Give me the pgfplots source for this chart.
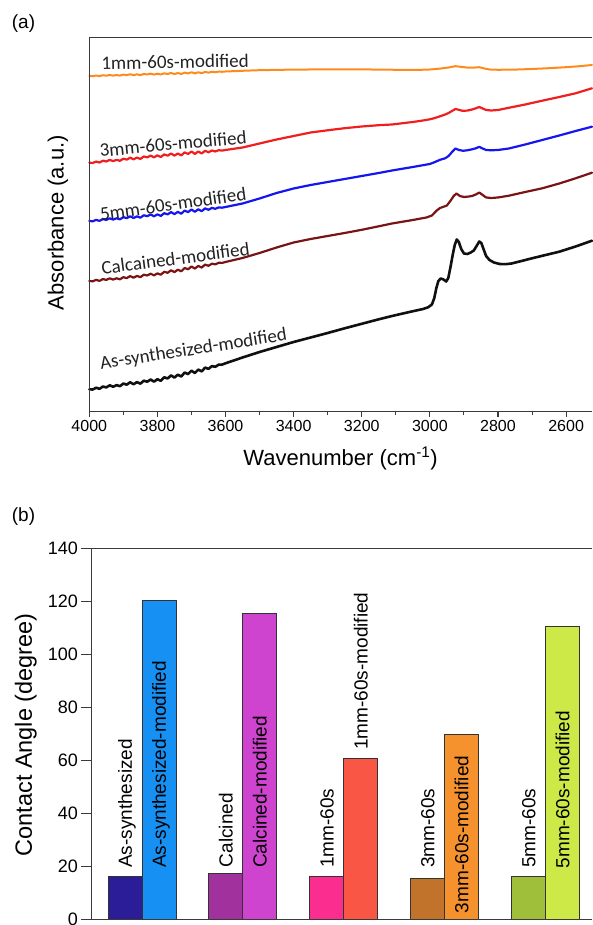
\documentclass[border=0pt]{standalone}
\usepackage{pgfplots}
\pgfplotsset{compat=1.18}
\usepackage{fontspec}
\setmainfont{Liberation Sans}
\newfontfamily\calib{Carlito}
\definecolor{axc}{HTML}{3A3A3A}
\definecolor{lorange}{HTML}{FF8A1C}
\definecolor{lred}{HTML}{F01E1E}
\definecolor{lblue}{HTML}{1515F0}
\definecolor{lbrown}{HTML}{7A1414}
\definecolor{lblack}{HTML}{101010}
\definecolor{txt}{HTML}{222222}
\definecolor{cA}{HTML}{2B1C97}
\definecolor{cB}{HTML}{1690F2}
\definecolor{cC}{HTML}{A1319C}
\definecolor{cD}{HTML}{CF44CF}
\definecolor{cE}{HTML}{FB2E90}
\definecolor{cF}{HTML}{FA5645}
\definecolor{cG}{HTML}{C2732B}
\definecolor{cH}{HTML}{F5922E}
\definecolor{cI}{HTML}{9FBE3A}
\definecolor{cJ}{HTML}{CCE947}
\begin{document}
\begin{tikzpicture}
\useasboundingbox (0,0) rectangle (592pt,925pt);
\node[font=\fontsize{19}{22}\selectfont] at (23.5pt,901.7pt) {(a)};
\node[font=\fontsize{19}{22}\selectfont] at (23.5pt,408.3pt) {(b)};
% ---------------- panel (a)
\begin{axis}[name=A,
  at={(89.3pt,513.3pt)}, anchor=south west,
  scale only axis, width=502.7pt, height=374.4pt,
  xmin=2524, xmax=4000, x dir=reverse,
  ymin=-411.7, ymax=-37.3,
  ytick=\empty,
  xtick={2600,2800,...,4000},
  minor x tick num=1,
  xtick pos=left, tick align=outside,
  major tick length=5pt, minor tick length=3.3pt,
  tick style={axc, line width=1.1pt},
  axis line style={draw=none},
  xticklabel style={font=\fontsize{16}{18}\selectfont},
  /pgf/number format/assume math mode=true,
  /pgf/number format/1000 sep={},
  xlabel={Wavenumber (cm\textsuperscript{-1})},
  xlabel style={at={(axis description cs:0.5,-0.1434)}, anchor=base, font=\fontsize{22}{24}\selectfont},
  ylabel={Absorbance (a.u.)},
  ylabel style={at={(axis description cs:-0.0513,0.505)}, anchor=base, font=\fontsize{22}{24}\selectfont},
  clip=false,
  every axis plot/.append style={line join=round, line cap=round},
]
% 1mm-60s-modified
\addplot[lorange, line width=2pt] table {
4000 -76.0
3990 -76.2
3980 -75.55
3970 -76.1
3960 -75.25
3950 -75.7
3940 -74.95
3930 -75.65
3920 -75.05
3910 -75.6
3900 -74.6
3890 -75.15
3880 -74.25
3870 -75.15
3860 -74.35
3850 -75.1
3840 -73.95
3830 -74.45
3820 -73.65
3810 -74.6
3800 -73.7
3790 -74.55
3780 -73.3
3770 -74.0
3760 -72.95
3750 -74.05
3740 -73.05
3730 -74.05
3720 -72.6
3710 -73.45
3700 -72.25
3690 -73.45
3680 -72.25
3670 -73.25
3660 -71.9
3650 -72.65
3640 -71.75
3630 -72.25
3620 -71.6
3610 -71.8
3600 -71.5
3550 -70.8
3500 -70.2
3400 -69.6
3300 -69.4
3200 -69.4
3100 -69.8
3040 -70.0
3000 -69.5
2970 -68.6
2945 -67.5
2925 -66.2
2910 -66.8
2890 -67.6
2870 -67.6
2855 -67.2
2840 -68.5
2825 -69.5
2800 -69.8
2750 -69.6
2700 -69.0
2650 -68.2
2600 -67.2
2560 -66.2
2524 -65.0
};
% 3mm-60s-modified
\addplot[lred, line width=2.2pt] table {
4000 -162.7
3990 -162.98
3980 -161.56
3970 -162.54
3960 -160.72
3950 -161.5
3940 -159.88
3930 -161.16
3920 -159.84
3910 -160.82
3900 -158.7
3890 -159.65
3880 -157.7
3870 -159.35
3860 -157.6
3850 -158.95
3840 -156.5
3830 -157.35
3820 -155.6
3810 -157.35
3800 -155.4
3790 -157.0
3780 -154.4
3770 -155.7
3760 -153.5
3750 -155.6
3740 -153.5
3730 -155.4
3720 -152.4
3710 -154.0
3700 -151.5
3690 -153.9
3680 -151.5
3670 -153.5
3660 -150.8
3650 -152.3
3640 -150.5
3630 -151.5
3620 -150.2
3610 -150.6
3600 -150.0
3550 -147.5
3500 -143.5
3450 -139.5
3400 -136.0
3350 -132.5
3300 -130.3
3250 -128.2
3200 -126.5
3150 -125.2
3111 -124.5
3050 -122.0
3020 -120.5
3000 -119.3
2985 -118.0
2970 -116.3
2955 -114.5
2945 -113.0
2935 -111.0
2925 -109.0
2915 -109.8
2905 -110.8
2890 -110.6
2876 -109.5
2865 -108.3
2855 -107.0
2845 -108.5
2835 -110.0
2820 -110.5
2800 -110.0
2768 -107.8
2720 -104.5
2670 -100.7
2620 -97.0
2572 -93.3
2524 -88.3
};
% 5mm-60s-modified
\addplot[lblue, line width=2.2pt] table {
4000 -221.0
3990 -221.3
3980 -219.9
3970 -220.9
3960 -219.1
3950 -219.9
3940 -218.3
3930 -219.6
3920 -218.3
3910 -219.3
3900 -217.2
3890 -218.2
3880 -216.3
3870 -218.0
3860 -216.3
3850 -217.7
3840 -215.3
3830 -216.2
3820 -214.5
3810 -216.3
3800 -214.4
3790 -215.9
3780 -213.2
3770 -214.4
3760 -212.1
3750 -214.1
3740 -211.9
3730 -213.7
3720 -210.6
3710 -212.1
3700 -209.5
3690 -211.8
3680 -209.3
3670 -211.2
3660 -208.4
3650 -209.8
3640 -207.9
3630 -208.8
3620 -207.4
3610 -207.7
3600 -207.0
3550 -203.5
3500 -198.5
3450 -193.0
3400 -188.5
3350 -185.0
3300 -182.0
3250 -179.0
3200 -176.0
3150 -173.0
3111 -170.5
3050 -167.0
3000 -164.0
2985 -162.0
2970 -159.8
2955 -158.3
2945 -156.0
2935 -152.0
2925 -148.5
2915 -150.0
2902 -150.8
2890 -150.3
2876 -149.3
2865 -148.3
2855 -146.8
2845 -148.5
2835 -150.0
2820 -150.3
2800 -150.0
2768 -148.5
2720 -144.5
2670 -140.0
2620 -135.5
2572 -131.0
2524 -126.7
};
% Calcained-modified
\addplot[lbrown, line width=2.2pt] table {
4000 -281.0
3990 -281.3
3980 -279.9
3970 -280.9
3960 -279.1
3950 -279.9
3940 -278.3
3930 -279.6
3920 -278.3
3910 -279.3
3900 -277.2
3890 -278.1
3880 -276.1
3870 -277.7
3860 -275.9
3850 -277.2
3840 -274.7
3830 -275.5
3820 -273.7
3810 -275.4
3800 -273.4
3790 -274.7
3780 -271.8
3770 -272.8
3760 -270.3
3750 -272.1
3740 -269.7
3730 -271.3
3720 -268.0
3710 -269.3
3700 -266.5
3690 -268.6
3680 -265.9
3670 -267.6
3660 -264.6
3650 -265.8
3640 -263.7
3630 -264.4
3620 -262.8
3610 -262.9
3600 -262.0
3550 -258.0
3500 -253.0
3450 -247.5
3400 -242.5
3350 -239.0
3300 -236.0
3250 -233.0
3200 -229.8
3150 -226.3
3111 -223.5
3050 -220.0
3010 -217.5
2994 -215.5
2980 -210.5
2970 -208.0
2960 -206.8
2950 -205.5
2940 -201.0
2930 -196.0
2922 -193.5
2912 -196.0
2900 -197.0
2885 -196.5
2876 -196.0
2865 -194.5
2855 -192.5
2845 -195.0
2835 -197.5
2820 -198.0
2800 -197.5
2768 -195.7
2720 -192.0
2670 -188.3
2620 -183.5
2572 -178.3
2524 -172.7
};
% As-synthesized-modified
\addplot[lblack, line width=2.6pt] table {
4000 -389.3
3990 -389.54
3980 -387.74
3970 -388.82
3960 -386.54
3950 -387.38
3940 -385.34
3930 -386.78
3920 -385.1
3910 -386.18
3900 -383.54
3890 -384.65
3880 -382.28
3870 -384.23
3860 -382.1
3850 -383.69
3840 -380.72
3830 -381.71
3820 -379.58
3810 -381.65
3800 -379.28
3790 -380.81
3780 -377.3
3770 -378.47
3760 -375.44
3750 -377.57
3740 -374.66
3730 -376.55
3720 -372.56
3710 -374.09
3700 -370.7
3690 -373.02
3680 -369.58
3670 -371.42
3660 -367.62
3650 -368.86
3640 -366.14
3630 -366.78
3620 -364.66
3610 -364.58
3600 -363.3
3550 -357.5
3500 -352.0
3450 -347.0
3400 -342.0
3350 -337.5
3300 -333.0
3250 -328.3
3200 -323.8
3150 -319.3
3111 -316.0
3060 -312.0
3020 -309.0
3005 -307.3
2994 -304.5
2987 -298.0
2981 -288.0
2975 -281.0
2968 -278.5
2960 -279.5
2952 -281.5
2946 -278.0
2940 -268.0
2933 -255.0
2927 -245.0
2921 -239.5
2915 -242.0
2908 -249.0
2900 -253.5
2890 -254.0
2880 -252.5
2871 -250.5
2862 -245.5
2855 -241.5
2849 -243.0
2842 -249.5
2835 -256.0
2825 -260.0
2812 -262.5
2795 -264.0
2778 -264.2
2760 -263.5
2740 -261.8
2700 -258.3
2660 -255.0
2620 -251.7
2572 -246.5
2524 -240.7
};
\node[txt, font=\calib\fontsize{19}{22}\selectfont, rotate=1] at (axis cs:3748,-61.7) {1mm-60s-modified};
\node[txt, font=\calib\fontsize{19}{22}\selectfont, rotate=5.3] at (axis cs:3754,-143.7) {3mm-60s-modified};
\node[txt, font=\calib\fontsize{19}{22}\selectfont, rotate=8] at (axis cs:3754,-204) {5mm-60s-modified};
\node[txt, font=\calib\fontsize{19}{22}\selectfont, rotate=7.4] at (axis cs:3747,-258.3) {Calcained-modified};
\node[txt, font=\calib\fontsize{19}{22}\selectfont, rotate=8.9] at (axis cs:3694,-350) {As-synthesized-modified};
\end{axis}
\draw[axc, line width=1.3pt] (A.north east) -- (A.north west) -- (A.south west) -- (A.south east);
% ---------------- panel (b)
\begin{axis}[name=B,
  at={(91.5pt,5.7pt)}, anchor=south west,
  scale only axis, width=500.5pt, height=371pt,
  xmin=0.5, xmax=5.46, ymin=0, ymax=140,
  xtick=\empty, ytick={0,20,...,140},
  ytick pos=left, tick align=outside, major tick length=10pt,
  tick style={axc, line width=1.1pt},
  axis line style={draw=none},
  yticklabel style={font=\fontsize{18}{20}\selectfont},
  /pgf/number format/assume math mode=true,
  ylabel={Contact Angle (degree)},
  ylabel style={at={(axis description cs:-0.1189,0.497)}, anchor=base, font=\fontsize{23.5}{26}\selectfont},
  clip=false,
]
\addplot[ybar, bar width=34pt, bar shift=-17pt, fill=cA, draw=black!80, line width=0.8pt] coordinates {(1,16.1)};
\addplot[ybar, bar width=34pt, bar shift=17pt, fill=cB, draw=black!80, line width=0.8pt] coordinates {(1,120.5)};
\addplot[ybar, bar width=34pt, bar shift=-17pt, fill=cC, draw=black!80, line width=0.8pt] coordinates {(2,17.3)};
\addplot[ybar, bar width=34pt, bar shift=17pt, fill=cD, draw=black!80, line width=0.8pt] coordinates {(2,115.5)};
\addplot[ybar, bar width=34pt, bar shift=-17pt, fill=cE, draw=black!80, line width=0.8pt] coordinates {(3,16.0)};
\addplot[ybar, bar width=34pt, bar shift=17pt, fill=cF, draw=black!80, line width=0.8pt] coordinates {(3,60.8)};
\addplot[ybar, bar width=34pt, bar shift=-17pt, fill=cG, draw=black!80, line width=0.8pt] coordinates {(4,15.5)};
\addplot[ybar, bar width=34pt, bar shift=17pt, fill=cH, draw=black!80, line width=0.8pt] coordinates {(4,69.8)};
\addplot[ybar, bar width=34pt, bar shift=-17pt, fill=cI, draw=black!80, line width=0.8pt] coordinates {(5,16.0)};
\addplot[ybar, bar width=34pt, bar shift=17pt, fill=cJ, draw=black!80, line width=0.8pt] coordinates {(5,110.4)};
\begin{scope}[every node/.style={font=\fontsize{19}{21}\selectfont, inner sep=0pt, anchor=base west}]
\node[xshift=6.8pt, rotate=90] at (axis cs:0.8315,19.3) {As-synthesized};
\node[xshift=6.8pt, rotate=90] at (axis cs:1.1685,19.3) {As-synthesized-modified};
\node[xshift=6.8pt, rotate=90] at (axis cs:1.8315,19.6) {Calcined};
\node[xshift=6.8pt, rotate=90] at (axis cs:2.1685,19.3) {Calcined-modified};
\node[xshift=6.8pt, rotate=90] at (axis cs:2.8315,19.3) {1mm-60s};
\node[xshift=6.8pt, rotate=90] at (axis cs:3.1685,63.9) {1mm-60s-modified};
\node[xshift=6.8pt, rotate=90] at (axis cs:3.8315,19.3) {3mm-60s};
\node[xshift=6.8pt, rotate=90] at (axis cs:4.1685,2.3) {3mm-60s-modified};
\node[xshift=6.8pt, rotate=90] at (axis cs:4.8315,19.3) {5mm-60s};
\node[xshift=6.8pt, rotate=90] at (axis cs:5.1685,19.2) {5mm-60s-modified};
\end{scope}
\end{axis}
\draw[axc, line width=1.3pt] (B.north east) -- (B.north west) -- (B.south west) -- (B.south east);
\end{tikzpicture}
\end{document}
